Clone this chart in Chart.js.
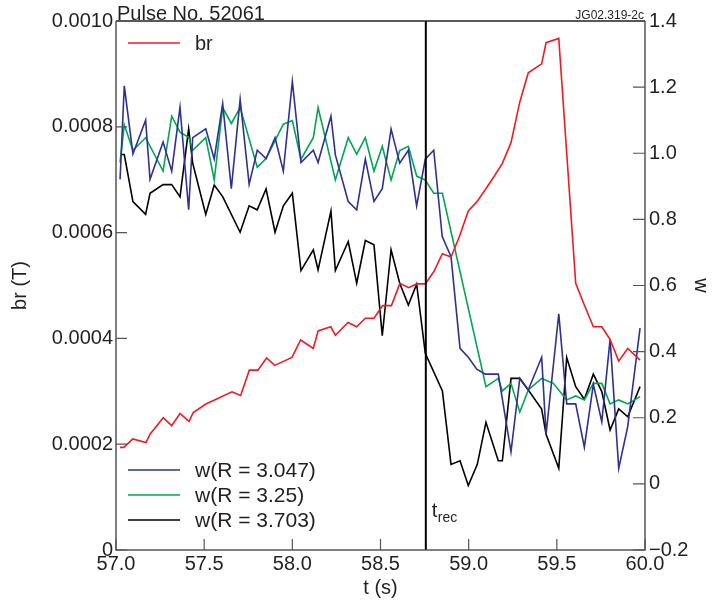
<!DOCTYPE html>
<html>
<head>
<meta charset="utf-8">
<title>Pulse No. 52061</title>
<script src="https://cdn.jsdelivr.net/npm/chart.js@4.4.0/dist/chart.umd.min.js"></script>
<style>
  html, body { margin: 0; padding: 0; background: #fff; }
  canvas { display: block; }
</style>
</head>
<body>
<canvas id="chart" width="726" height="608"></canvas>
<script>
const FONT = "'Liberation Sans', Arial, Helvetica, sans-serif";
const INK = '#231f20';

// br (T), left axis
const brTimes = [57.023, 57.045, 57.095, 57.170, 57.193, 57.268, 57.316, 57.363, 57.414, 57.438,
  57.510, 57.658, 57.707, 57.756, 57.805, 57.854, 57.900, 57.998, 58.047, 58.119,
  58.146, 58.218, 58.244, 58.316, 58.365, 58.414, 58.463, 58.512, 58.562, 58.610,
  58.660, 58.705, 58.754, 58.802, 58.851, 58.900, 58.947, 58.998, 59.046, 59.094,
  59.144, 59.191, 59.240, 59.290, 59.338, 59.414, 59.439, 59.511, 59.607, 59.656,
  59.707, 59.755, 59.802, 59.851, 59.902, 59.972];
const brValues = [0.000194, 0.000194, 0.000210, 0.000203, 0.000219, 0.000250, 0.000235, 0.000258, 0.000243, 0.000260,
  0.000276, 0.000299, 0.000292, 0.000340, 0.000340, 0.000363, 0.000349, 0.000364, 0.000397, 0.000381,
  0.000414, 0.000422, 0.000406, 0.000430, 0.000422, 0.000438, 0.000438, 0.000462, 0.000462, 0.000504,
  0.000496, 0.000503, 0.000503, 0.000526, 0.000560, 0.000554, 0.000592, 0.000641, 0.000658, 0.000681,
  0.000706, 0.000731, 0.000770, 0.000847, 0.000902, 0.000919, 0.000959, 0.000967, 0.000504, 0.000463,
  0.000422, 0.000422, 0.000398, 0.000357, 0.000381, 0.000359];

// w(R = 3.047), right axis
const w3047Times = [57.023, 57.047, 57.096, 57.168, 57.193, 57.267, 57.316, 57.363, 57.412, 57.435,
  57.509, 57.557, 57.605, 57.654, 57.704, 57.755, 57.801, 57.851, 57.902, 57.949,
  58.000, 58.049, 58.119, 58.146, 58.219, 58.244, 58.317, 58.365, 58.414, 58.463,
  58.510, 58.560, 58.609, 58.658, 58.705, 58.754, 58.802, 58.850, 58.900, 58.951,
  58.998, 59.046, 59.094, 59.168, 59.240, 59.290, 59.338, 59.414, 59.439, 59.511,
  59.556, 59.607, 59.656, 59.707, 59.755, 59.802, 59.851, 59.902, 59.972];
const w3047Values = [0.921, 1.204, 0.998, 1.100, 0.921, 1.034, 0.946, 1.139, 0.829, 1.047,
  1.074, 0.983, 1.150, 0.893, 1.163, 0.906, 1.009, 0.984, 1.047, 0.946,
  1.217, 0.972, 1.009, 0.972, 1.112, 0.995, 0.854, 0.829, 0.982, 0.854,
  0.893, 1.073, 0.970, 1.009, 0.841, 0.982, 1.009, 0.748, 0.687, 0.410,
  0.383, 0.347, 0.332, 0.332, 0.097, 0.319, 0.284, 0.383, 0.150, 0.514,
  0.242, 0.242, 0.111, 0.301, 0.188, 0.437, 0.047, 0.173, 0.471];

// w(R = 3.25)
const w325Times = [57.023, 57.047, 57.096, 57.168, 57.267, 57.316, 57.363, 57.412, 57.435, 57.509,
  57.557, 57.605, 57.654, 57.704, 57.801, 57.851, 57.949, 58.000, 58.049, 58.119,
  58.146, 58.244, 58.317, 58.365, 58.414, 58.463, 58.510, 58.560, 58.609, 58.658,
  58.705, 58.754, 58.802, 58.851, 59.098, 59.168, 59.191, 59.240, 59.290, 59.338,
  59.414, 59.480, 59.556, 59.607, 59.656, 59.707, 59.755, 59.802, 59.851, 59.902,
  59.972];
const w325Values = [0.972, 1.086, 1.009, 1.047, 0.946, 1.112, 1.064, 1.048, 1.009, 1.047,
  0.919, 1.138, 1.090, 1.138, 0.958, 0.984, 1.088, 1.099, 0.982, 1.047,
  1.138, 0.919, 1.047, 0.997, 1.047, 0.946, 1.021, 0.919, 1.008, 1.021,
  0.931, 0.919, 0.879, 0.879, 0.294, 0.319, 0.281, 0.304, 0.217, 0.284,
  0.319, 0.304, 0.254, 0.266, 0.254, 0.304, 0.304, 0.242, 0.254, 0.242,
  0.264];

// w(R = 3.703)
const w3703Times = [57.023, 57.047, 57.096, 57.168, 57.193, 57.267, 57.316, 57.363, 57.412, 57.435,
  57.509, 57.557, 57.605, 57.704, 57.755, 57.801, 57.851, 57.902, 57.949, 58.000,
  58.049, 58.119, 58.146, 58.219, 58.244, 58.317, 58.365, 58.414, 58.463, 58.510,
  58.560, 58.609, 58.658, 58.705, 58.754, 58.851, 58.900, 58.951, 58.998, 59.049,
  59.098, 59.168, 59.191, 59.240, 59.290, 59.338, 59.414, 59.439, 59.511, 59.556,
  59.607, 59.656, 59.707, 59.755, 59.802, 59.851, 59.902, 59.972];
const w3703Values = [0.996, 0.996, 0.854, 0.815, 0.879, 0.905, 0.905, 0.868, 1.074, 0.970,
  0.815, 0.904, 0.869, 0.761, 0.841, 0.829, 0.892, 0.761, 0.841, 0.879,
  0.645, 0.708, 0.647, 0.825, 0.645, 0.733, 0.607, 0.736, 0.723, 0.448,
  0.708, 0.607, 0.541, 0.604, 0.395, 0.281, 0.059, 0.070, -0.005, 0.059,
  0.186, 0.070, 0.070, 0.319, 0.319, 0.284, 0.226, 0.150, 0.047, 0.382,
  0.294, 0.256, 0.332, 0.279, 0.163, 0.227, 0.203, 0.294];

const tRec = 58.757;

function toPoints(times, values) {
  return times.map((t, i) => ({ x: t, y: values[i] }));
}

function series(label, times, values, color, axis) {
  return {
    label: label,
    data: toPoints(times, values),
    borderColor: color,
    backgroundColor: color,
    borderWidth: 1.6,
    pointRadius: 0,
    tension: 0,
    yAxisID: axis
  };
}

// frame, inward ticks, legends and the t_rec marker
const decorations = {
  id: 'decorations',
  afterDraw(chart) {
    const { ctx, chartArea: a, scales } = chart;
    ctx.save();

    // t_rec line
    const xr = scales.x.getPixelForValue(tRec);
    ctx.strokeStyle = '#000';
    ctx.lineWidth = 2;
    ctx.beginPath();
    ctx.moveTo(xr, a.top);
    ctx.lineTo(xr, a.bottom);
    ctx.stroke();

    ctx.fillStyle = INK;
    ctx.textBaseline = 'alphabetic';
    ctx.textAlign = 'left';
    ctx.font = '20px ' + FONT;
    ctx.fillText('t', xr + 6, 517);
    ctx.font = '14px ' + FONT;
    ctx.fillText('rec', xr + 12, 522);

    // frame
    ctx.lineWidth = 1.5;
    ctx.strokeStyle = '#555';
    ctx.beginPath();
    ctx.moveTo(a.left, a.top);
    ctx.lineTo(a.left, a.bottom);
    ctx.lineTo(a.right, a.bottom);
    ctx.lineTo(a.right, a.top);
    ctx.stroke();
    ctx.strokeStyle = '#222';
    ctx.beginPath();
    ctx.moveTo(a.left, a.top);
    ctx.lineTo(a.right, a.top);
    ctx.stroke();

    // inward tick marks
    ctx.strokeStyle = '#555';
    ctx.lineWidth = 1.2;
    ctx.beginPath();
    scales.x.ticks.forEach(t => {
      const px = scales.x.getPixelForValue(t.value);
      ctx.moveTo(px, a.bottom);
      ctx.lineTo(px, a.bottom - 11);
    });
    scales.yL.ticks.forEach(t => {
      const py = scales.yL.getPixelForValue(t.value);
      ctx.moveTo(a.left, py);
      ctx.lineTo(a.left + 11, py);
    });
    scales.yR.ticks.forEach(t => {
      const py = scales.yR.getPixelForValue(t.value);
      ctx.moveTo(a.right, py);
      ctx.lineTo(a.right - 12, py);
    });
    ctx.stroke();

    // legends
    const ds = chart.data.datasets;
    const drawEntry = (d, y, size) => {
      ctx.strokeStyle = d.borderColor;
      ctx.lineWidth = 1.6;
      ctx.beginPath();
      ctx.moveTo(a.left + 12, y);
      ctx.lineTo(a.left + 64, y);
      ctx.stroke();
      ctx.fillStyle = INK;
      ctx.font = size + 'px ' + FONT;
      ctx.fillText(d.label, a.left + 79, y + 7);
    };
    drawEntry(ds[0], 43, 20);
    drawEntry(ds[1], 470, 21);
    drawEntry(ds[2], 495, 21);
    drawEntry(ds[3], 520, 21);

    // heading texts
    ctx.fillStyle = INK;
    ctx.font = '20px ' + FONT;
    ctx.textAlign = 'left';
    ctx.fillText('Pulse No. 52061', a.left + 1, 20);
    ctx.font = '12px ' + FONT;
    ctx.textAlign = 'right';
    ctx.fillText('JG02.319-2c', a.right - 1, 19);

    ctx.restore();
  }
};

const tickFont = { family: FONT, size: 20 };

new Chart(document.getElementById('chart'), {
  type: 'line',
  data: {
    datasets: [
      series('br', brTimes, brValues, '#ed1c24', 'yL'),
      series('w(R = 3.047)', w3047Times, w3047Values, '#2e3192', 'yR'),
      series('w(R = 3.25)', w325Times, w325Values, '#00a651', 'yR'),
      series('w(R = 3.703)', w3703Times, w3703Values, '#000000', 'yR')
    ]
  },
  options: {
    responsive: false,
    animation: false,
    layout: { padding: { top: 21, left: 0, right: 0, bottom: 0 } },
    plugins: {
      legend: { display: false },
      tooltip: { enabled: false }
    },
    scales: {
      x: {
        type: 'linear',
        min: 57,
        max: 60,
        grid: { display: false, drawTicks: false },
        border: { display: false },
        ticks: {
          stepSize: 0.5,
          padding: 2,
          color: INK,
          font: tickFont,
          maxRotation: 0,
          callback: v => v.toFixed(1)
        },
        title: {
          display: true,
          text: 't (s)',
          color: INK,
          font: { family: FONT, size: 20, lineHeight: 1 },
          padding: { top: 0, bottom: 10 }
        },
        afterFit: s => { s.height = 58; }
      },
      yL: {
        type: 'linear',
        position: 'left',
        min: 0,
        max: 0.001,
        grid: { display: false, drawTicks: false },
        border: { display: false },
        ticks: {
          stepSize: 0.0002,
          padding: 3,
          color: INK,
          font: tickFont,
          callback: v => Math.abs(v) < 1e-12 ? '0' : v.toFixed(4)
        },
        title: {
          display: true,
          text: 'br (T)',
          color: INK,
          font: { family: FONT, size: 20, lineHeight: 1 },
          padding: { top: 10, bottom: 0 }
        },
        afterFit: s => { s.width = 116; }
      },
      yR: {
        type: 'linear',
        position: 'right',
        min: -0.2,
        max: 1.4,
        grid: { display: false, drawTicks: false },
        border: { display: false },
        ticks: {
          stepSize: 0.2,
          padding: 4,
          color: INK,
          font: tickFont,
          callback: v => {
            if (Math.abs(v) < 1e-9) return '0';
            return v < 0 ? '\u2212' + Math.abs(v).toFixed(1) : v.toFixed(1);
          }
        },
        title: {
          display: true,
          text: 'w',
          color: INK,
          font: { family: FONT, size: 20, lineHeight: 1 },
          padding: { top: 15, bottom: 0 }
        },
        afterFit: s => { s.width = 81; }
      }
    }
  },
  plugins: [decorations]
});
</script>
</body>
</html>
